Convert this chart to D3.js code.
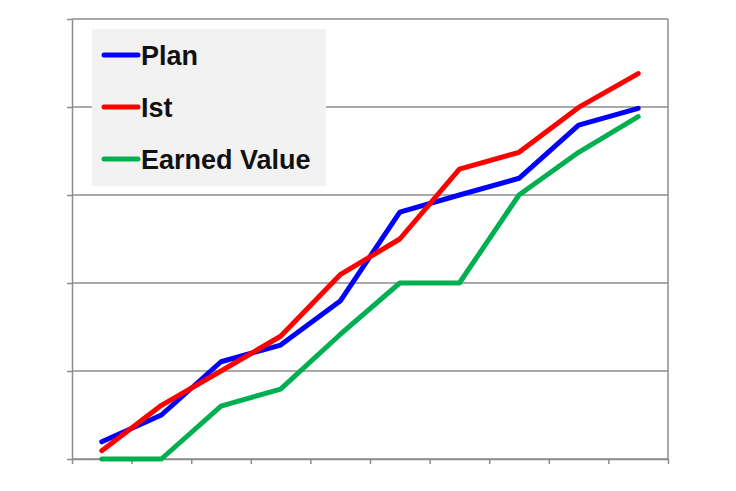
<!DOCTYPE html>
<html>
<head>
<meta charset="utf-8">
<script src="https://cdn.jsdelivr.net/npm/d3@7"></script>
<style>
  body { margin: 0; background: #fff; }
  svg { display: block; }
</style>
</head>
<body>
<svg id="chart" width="736" height="491"></svg>
<script>
// periods (no labels on the original axis)
const periods = ["1", "2", "3", "4", "5", "6", "7", "8", "9", "10"];
const planValues = [3.9, 10.0, 22.1, 25.9, 35.9, 56.1, 60.0, 63.8, 75.9, 79.7];
const istValues = [1.9, 12.2, 20.0, 27.9, 41.9, 50.0, 65.9, 69.7, 79.9, 87.6];
const earnedValues = [0, 0, 12.0, 15.9, 28.3, 40.0, 40.0, 60.0, 69.7, 77.8];
const yTicks = [0, 20, 40, 60, 80, 100];

const seriesList = [
    { name: "Plan", values: planValues, color: "#0000ff" },
    { name: "Ist", values: istValues, color: "#ff0000" },
    { name: "Earned Value", values: earnedValues, color: "#00b050" }
];

const svg = d3.select("#chart");
const plotLeft = 72, plotRight = 668, plotTop = 19, plotBottom = 459;

const x = d3.scaleLinear().domain([0, periods.length]).range([plotLeft, plotRight]);
const y = d3.scaleLinear().domain([0, 100]).range([plotBottom, plotTop]);

// horizontal gridlines
svg.append("g")
    .selectAll("line")
    .data(yTicks)
    .enter()
    .append("line")
    .attr("x1", plotLeft)
    .attr("x2", plotRight)
    .attr("y1", d => y(d))
    .attr("y2", d => y(d))
    .style("stroke", "#8c8c8c")
    .style("stroke-width", "1.5px");

// right border
svg.append("line")
    .attr("x1", plotRight).attr("x2", plotRight)
    .attr("y1", plotTop).attr("y2", plotBottom)
    .style("stroke", "#8c8c8c")
    .style("stroke-width", "1.5px");

// y axis (ticks only)
const yAxis = svg.append("g")
    .attr("transform", `translate(${plotLeft},0)`)
    .call(d3.axisLeft(y).tickValues(yTicks).tickSize(5).tickSizeOuter(0).tickFormat(""));

// x axis (ticks at period boundaries)
const xAxis = svg.append("g")
    .attr("transform", `translate(0,${plotBottom})`)
    .call(d3.axisBottom(x).tickValues(d3.range(0, periods.length + 1)).tickSize(5).tickSizeOuter(0).tickFormat(""));

[yAxis, xAxis].forEach(g => {
    g.selectAll("path, line")
        .style("stroke", "#8c8c8c")
        .style("stroke-width", "1.5px");
});

// series lines
const line = d3.line()
    .x((d, i) => x(i + 0.5))
    .y(d => y(d));

svg.selectAll("path.series")
    .data(seriesList)
    .enter()
    .append("path")
    .attr("class", "series")
    .attr("d", d => line(d.values))
    .style("fill", "none")
    .style("stroke", d => d.color)
    .style("stroke-width", "5px")
    .style("stroke-linejoin", "round")
    .style("stroke-linecap", "round");

// legend
const legend = svg.append("g");
legend.append("rect")
    .attr("x", 92)
    .attr("y", 29)
    .attr("width", 234)
    .attr("height", 157)
    .style("fill", "#f2f2f2");

const items = legend.selectAll("g.item")
    .data(seriesList)
    .enter()
    .append("g")
    .attr("class", "item")
    .attr("transform", (d, i) => `translate(0,${55 + i * 52})`);

items.append("line")
    .attr("x1", 104)
    .attr("x2", 138)
    .attr("y1", 0)
    .attr("y2", 0)
    .style("stroke", d => d.color)
    .style("stroke-width", "5px")
    .style("stroke-linecap", "round");

items.append("text")
    .attr("x", 141)
    .attr("y", 9.5)
    .style("font-family", "'Liberation Sans', Arial, sans-serif")
    .style("font-weight", "bold")
    .style("font-size", "27px")
    .style("fill", "#111")
    .text(d => d.name);
</script>
</body>
</html>
